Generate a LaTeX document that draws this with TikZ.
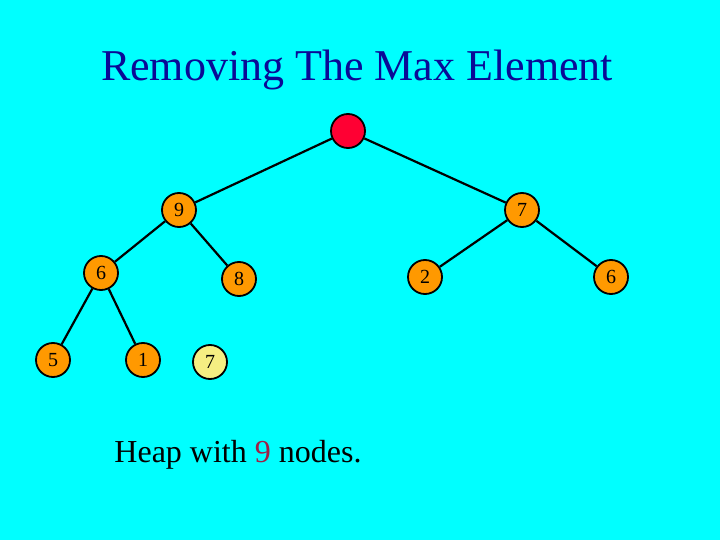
\documentclass[tikz,border=0pt]{standalone}
\usepackage{fontspec}
\setmainfont{Liberation Serif}
\usepackage{tikz}
\definecolor{slidebg}{HTML}{00FFFF}
\definecolor{titleblue}{HTML}{0A0A96}
\definecolor{heaporange}{HTML}{FF9900}
\definecolor{emptyred}{HTML}{FF0033}
\definecolor{paleyellow}{HTML}{F5EE82}
\definecolor{countred}{HTML}{A01E46}
\tikzset{
  heapnode/.style={
    circle,
    draw=black,
    line width=1.8pt,
    fill=heaporange,
    minimum size=34pt,
    inner sep=0pt,
    font=\fontsize{20}{22}\selectfont
  },
  emptynode/.style={heapnode,fill=emptyred},
  movednode/.style={heapnode,fill=paleyellow},
  treeedge/.style={line width=2.2pt,draw=black}
}
\begin{document}
\begin{tikzpicture}[x=1pt,y=-1pt]
  \fill[slidebg] (0,0) rectangle (720,540);
  \useasboundingbox (0,0) rectangle (720,540);

  \node[font=\fontsize{44}{48}\selectfont,text=titleblue] (title) at (357,70) {Removing The Max Element};

  \node[emptynode] (root) at (348,131) {};
  \node[heapnode] (nine) at (179,210) {9};
  \node[heapnode] (seven) at (522,210) {7};
  \node[heapnode] (sixleft) at (101,273) {6};
  \node[heapnode] (eight) at (239,279) {8};
  \node[heapnode] (two) at (425,277) {2};
  \node[heapnode] (sixright) at (611,277) {6};
  \node[heapnode] (five) at (53,360) {5};
  \node[heapnode] (one) at (143,360) {1};
  \node[movednode] (lastseven) at (210,362) {7};

  \draw[treeedge] (root) -- (nine);
  \draw[treeedge] (root) -- (seven);
  \draw[treeedge] (nine) -- (sixleft);
  \draw[treeedge] (nine) -- (eight);
  \draw[treeedge] (seven) -- (two);
  \draw[treeedge] (seven) -- (sixright);
  \draw[treeedge] (sixleft) -- (five);
  \draw[treeedge] (sixleft) -- (one);

  \node[font=\fontsize{32}{36}\selectfont] (caption) at (238,455) {Heap with \textcolor{countred}{9} nodes.};
\end{tikzpicture}
\end{document}
